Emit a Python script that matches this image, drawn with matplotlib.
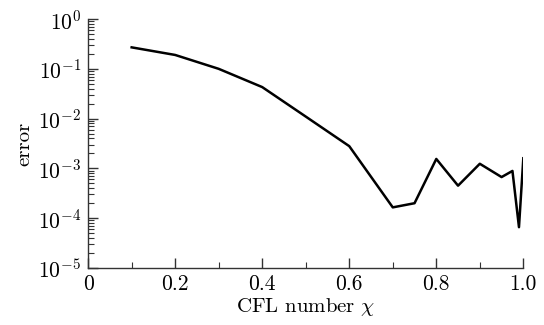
import matplotlib
matplotlib.use("Agg")
import matplotlib.pyplot as plt
from matplotlib.ticker import FixedLocator, LogLocator, NullFormatter, FixedFormatter

cfl = [0.1, 0.2, 0.3, 0.4, 0.5, 0.6, 0.7, 0.75, 0.8, 0.85, 0.9, 0.95, 0.975, 0.99, 1.0]
err = [0.27, 0.19, 0.10, 0.043, 0.011, 0.0028, 1.65e-4, 2.0e-4, 1.55e-3, 4.5e-4, 1.24e-3, 6.7e-4, 8.9e-4, 6.6e-5, 1.6e-3]

xticks = [0, 0.2, 0.4, 0.6, 0.8, 1.0]
xticklabels = ["0", "0.2", "0.4", "0.6", "0.8", "1.0"]
xminor = [0.1, 0.3, 0.5, 0.7, 0.9]

plt.rcParams["font.family"] = "serif"
plt.rcParams["font.serif"] = ["cmr10", "DejaVu Serif"]
plt.rcParams["mathtext.fontset"] = "cm"
plt.rcParams["axes.formatter.use_mathtext"] = True

fig = plt.figure(figsize=(5.44, 3.25), dpi=100)
ax = fig.add_axes([0.162, 0.1754, 0.800, 0.766])
ax.plot(cfl, err, color="black", lw=1.8)
ax.set_yscale("log")
ax.set_xlim(0, 1.0)
ax.set_ylim(1e-5, 1e0)

ax.xaxis.set_major_locator(FixedLocator(xticks))
ax.xaxis.set_major_formatter(FixedFormatter(xticklabels))
ax.xaxis.set_minor_locator(FixedLocator(xminor))
ax.yaxis.set_major_locator(LogLocator(base=10, numticks=10))
ax.yaxis.set_minor_locator(LogLocator(base=10, subs=range(2, 10), numticks=100))
ax.yaxis.set_minor_formatter(NullFormatter())

for s in ["top", "right"]:
    ax.spines[s].set_visible(False)
for s in ["left", "bottom"]:
    ax.spines[s].set_color("#333333")
    ax.spines[s].set_linewidth(1.0)

ax.tick_params(which="major", direction="in", length=7, width=1.0, color="#333333", labelsize=15.5, pad=5)
ax.tick_params(which="minor", direction="in", length=4.5, width=0.8, color="#333333")

ax.set_xlabel(r"CFL number $\chi$", fontsize=15, labelpad=1)
ax.set_ylabel("error", fontsize=15, labelpad=3)

fig.savefig("out.png", dpi=100)
